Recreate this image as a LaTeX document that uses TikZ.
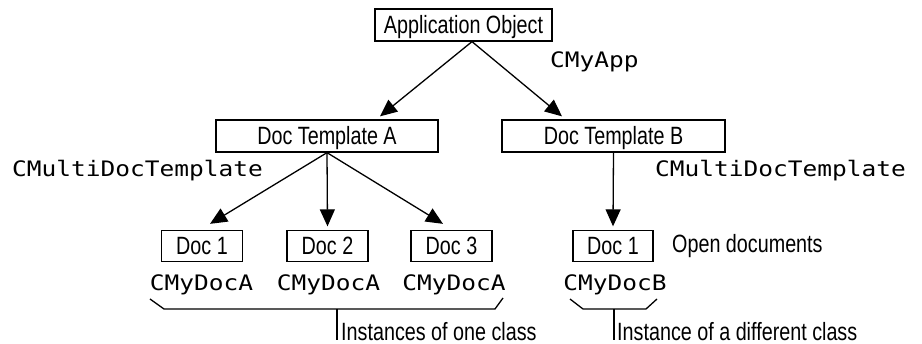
\documentclass[tikz,border=0pt]{standalone}
\usepackage{fontspec}
\usetikzlibrary{arrows.meta}
% narrow sans for box texts and notes, stretched mono for class names
\newfontfamily\boxfont{Liberation Sans}[FakeStretch=0.79]
\newfontfamily\codefont{DejaVu Sans Mono}[FakeStretch=1.15]
\begin{document}
\begin{tikzpicture}[x=1pt,y=-1pt,
  box/.style={draw,line width=1.3pt,inner xsep=0pt,inner ysep=7pt,
    text height=18pt,text depth=0pt,
    font={\boxfont\fontsize{25}{30}\selectfont}},
  docbox/.style={box,inner ysep=6.5pt,minimum width=81pt},
  lbl/.style={inner sep=0pt,anchor=base west,
    font={\boxfont\fontsize{25}{30}\selectfont}},
  code/.style={inner sep=0pt,anchor=base,
    font={\codefont\fontsize{21.3}{26}\selectfont}},
  arr/.style={line width=1.3pt,-{Triangle[length=17pt,width=15pt]}},
  bracket/.style={line width=1.3pt}]
\useasboundingbox (0,0) rectangle (922,344);

% object boxes
\node[box,minimum width=177pt] (app) at (463.5,25) {Application Object};
\node[box,minimum width=222pt] (ta) at (327,136) {Doc Template A};
\node[box,minimum width=223pt] (tb) at (613.5,136) {Doc Template B};
\node[docbox] (d1) at (202,246) {Doc 1};
\node[docbox] (d2) at (327.5,246) {Doc 2};
\node[docbox] (d3) at (451.5,246) {Doc 3};
\node[docbox,minimum width=80pt] (db) at (613,246) {Doc 1};

% class names
\node[code,anchor=base west] (capp) at (550,68) {CMyApp};
\node[code,anchor=base west] (cta) at (12,177) {CMultiDocTemplate};
\node[code,anchor=base west] (ctb) at (655,177) {CMultiDocTemplate};
\node[code] (c1) at (201.5,291) {CMyDocA};
\node[code] (c2) at (328.5,291) {CMyDocA};
\node[code] (c3) at (454,291) {CMyDocA};
\node[code] (cb) at (615,291) {CMyDocB};

% notes
\node[lbl] (open) at (672,253) {Open documents};
\node[lbl] (one) at (341,340.5) {Instances of one class};
\node[lbl] (diff) at (617,340.5) {Instance of a different class};

% ownership arrows
\coordinate (appfoot) at ([xshift=8.5pt]app.south);
\draw[arr] (appfoot) -- ([xshift=53pt,yshift=3pt]ta.north);
\draw[arr] (appfoot) -- ([xshift=-51.5pt,yshift=3pt]tb.north);
\draw[arr] (ta.south) -- ([xshift=8pt,yshift=6pt]d1.north);
\draw[arr] (ta.south) -- ([yshift=3.5pt]d2.north);
\draw[arr] (ta.south) -- ([xshift=-8.5pt,yshift=6pt]d3.north);
\draw[arr] (tb.south) -- ([yshift=3.5pt]db.north);

% grouping brackets
\coordinate (ga) at (337,309);
\coordinate (gb) at (614,309);
\draw[bracket] (150,299) -- (164,309) -- (495,309) -- (503,298);
\draw[bracket] (ga) -- (ga |- 0,340);
\draw[bracket] (570,299) -- (583,309) -- (646,309) -- (657,299);
\draw[bracket] (gb) -- (gb |- 0,340);
\end{tikzpicture}
\end{document}
